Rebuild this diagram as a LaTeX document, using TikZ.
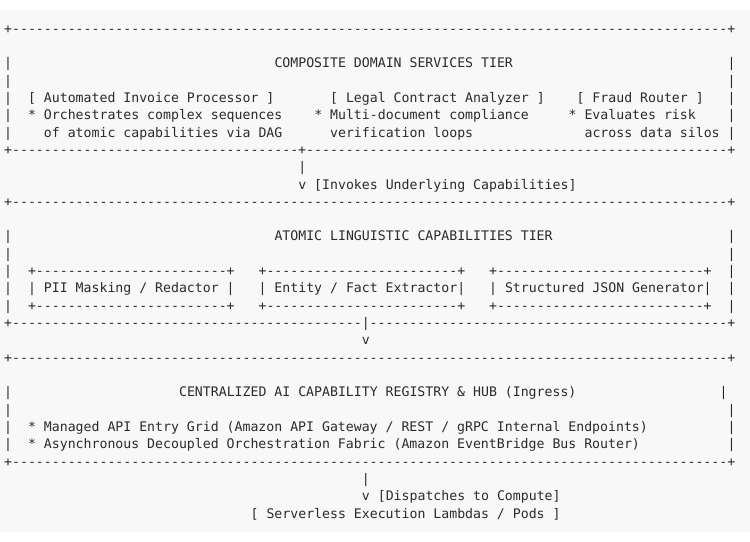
\documentclass[tikz,border=0pt]{standalone}
\usepackage{fontspec}
\newfontfamily\asciifont{DejaVu Sans Mono}
\usetikzlibrary{positioning}
\definecolor{ink}{HTML}{2B2B2B}
\definecolor{paper}{HTML}{F8F8F8}
\newcommand\dashes[1]{\foreach \i in {1,...,#1}{-}}
\tikzset{
  txt/.style={anchor=mid west, inner sep=0pt, text=ink,
    font=\asciifont\fontsize{13.2bp}{15bp}\selectfont},
}
\begin{document}
\begin{tikzpicture}[x=7.95bp, y=-17.32bp]
        \useasboundingbox (-4bp,-511bp) rectangle (746bp,31bp);
        \fill[white] (-4bp,-511bp) rectangle (746bp,31bp);
        \fill[paper] (-4bp,-501bp) rectangle (746bp,21bp);

        % composite tier
        \node[txt] at (0, 0)(t0){+\dashes{90}+};
        \node[txt] at (0, 2)(t2l){|};
        \node[txt] at (34, 2)(t2){COMPOSITE DOMAIN SERVICES TIER};
        \node[txt] at (91, 2)(t2r){|};
        \node[txt] at (0, 3)(t3l){|};
        \node[txt] at (91, 3)(t3r){|};
        \node[txt] at (0, 4)(t4l){|};
        \node[txt] at (3, 4)(inv){[ Automated Invoice Processor ]};
        \node[txt] at (41, 4)(leg){[ Legal Contract Analyzer ]};
        \node[txt] at (72, 4)(fra){[ Fraud Router ]};
        \node[txt] at (91, 4)(t4r){|};
        \node[txt] at (0, 5)(t5l){|};
        \node[txt] at (3, 5)(inv1){* Orchestrates complex sequences};
        \node[txt] at (39, 5)(leg1){* Multi-document compliance};
        \node[txt] at (71, 5)(fra1){* Evaluates risk};
        \node[txt] at (91, 5)(t5r){|};
        \node[txt] at (0, 6)(t6l){|};
        \node[txt] at (5, 6)(inv2){of atomic capabilities via DAG};
        \node[txt] at (41, 6)(leg2){verification loops};
        \node[txt] at (73, 6)(fra2){across data silos};
        \node[txt] at (91, 6)(t6r){|};
        \node[txt] at (0, 7)(t7){+\dashes{36}+\dashes{53}+};
        \node[txt] at (37, 8)(a1){|};
        \node[txt] at (37, 9)(a1v){v [Invokes Underlying Capabilities]};

        % atomic tier
        \node[txt] at (0, 10)(m0){+\dashes{90}+};
        \node[txt] at (0, 12)(m2l){|};
        \node[txt] at (34, 12)(m2){ATOMIC LINGUISTIC CAPABILITIES TIER};
        \node[txt] at (91, 12)(m2r){|};
        \node[txt] at (0, 13)(m3l){|};
        \node[txt] at (91, 13)(m3r){|};
        \foreach \r in {14, 16}{
          \node[txt] at (0, \r)(m\r l){|};
          \node[txt] at (3, \r)(pii\r){+\dashes{24}+};
          \node[txt] at (32, \r)(ent\r){+\dashes{24}+};
          \node[txt] at (61, \r)(json\r){+\dashes{26}+};
          \node[txt] at (91, \r)(m\r r){|};
        }
        \node[txt] at (0, 15)(m15l){|};
        \node[txt] at (3, 15)(pii){| PII Masking / Redactor |};
        \node[txt] at (32, 15)(ent){| Entity / Fact Extractor|};
        \node[txt] at (61, 15)(json){| Structured JSON Generator|};
        \node[txt] at (91, 15)(m15r){|};
        \node[txt] at (0, 17)(m7){+\dashes{44}|\dashes{45}+};
        \node[txt] at (45, 18)(a2v){v};

        % registry hub
        \node[txt] at (0, 19)(h0){+\dashes{90}+};
        \node[txt] at (0, 21)(h2l){|};
        \node[txt] at (22, 21)(h2){CENTRALIZED AI CAPABILITY REGISTRY \& HUB (Ingress)};
        \node[txt] at (90, 21)(h2r){|};
        \node[txt] at (0, 22)(h3l){|};
        \node[txt] at (91, 22)(h3r){|};
        \node[txt] at (0, 23)(h4l){|};
        \node[txt] at (3, 23)(api){* Managed API Entry Grid (Amazon API Gateway / REST / gRPC Internal Endpoints)};
        \node[txt] at (91, 23)(h4r){|};
        \node[txt] at (0, 24)(h5l){|};
        \node[txt] at (3, 24)(bus){* Asynchronous Decoupled Orchestration Fabric (Amazon EventBridge Bus Router)};
        \node[txt] at (91, 24)(h5r){|};
        \node[txt] at (0, 25)(h6){+\dashes{90}+};
        \node[txt] at (45, 26)(a3){|};
        \node[txt] at (45, 27)(a3v){v [Dispatches to Compute]};
        \node[txt] at (31, 28)(lam){[ Serverless Execution Lambdas / Pods ]};
\end{tikzpicture}
\end{document}
